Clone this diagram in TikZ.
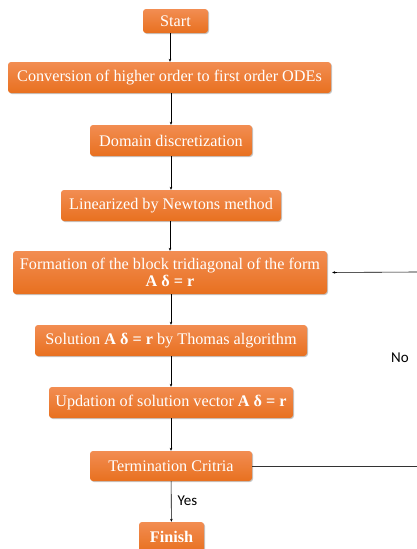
\documentclass[tikz,border=0pt]{standalone}
\usepackage{fontspec}
\setmainfont{Liberation Serif}
\newfontfamily\lblfont{Carlito}
\usetikzlibrary{arrows.meta,shadows}
\definecolor{otop}{HTML}{F28D52}
\definecolor{obot}{HTML}{E8701F}
\tikzset{
  box/.style={rounded corners=3pt, top color=otop, bottom color=obot, draw=none,
    drop shadow={shadow xshift=1pt, shadow yshift=-1pt, fill=black!45, opacity=0.5},
    text=white, font=\fontsize{16.2}{17.5}\selectfont, inner sep=0pt, align=center},
  conn/.style={draw=black, line width=0.6pt, -{Stealth[length=3pt,width=2.6pt]}},
  plain/.style={draw=black!80, line width=0.6pt},
  lbl/.style={font=\lblfont\fontsize{15}{16}\selectfont, text=black, inner sep=0pt}
}
\begin{document}
\begin{tikzpicture}[x=1pt,y=-1pt]
\useasboundingbox (0,0) rectangle (417,549);
\node[box, minimum width=65pt, minimum height=24pt] (start) at (175.5,21) {Start};
\node[box, minimum width=323pt, minimum height=31pt] (conv) at (169.5,77.5) {Conversion of higher order to first order ODEs};
\node[box, minimum width=162pt, minimum height=31pt] (dom) at (171,140.5) {Domain discretization};
\node[box, minimum width=220pt, minimum height=31pt] (lin) at (171,205.5) {Linearized by Newtons method};
\node[box, minimum width=314pt, minimum height=43pt] (form) at (170,272.5) {Formation of the block tridiagonal of the form\\ \textbf{A δ = r}};
\node[box, minimum width=272pt, minimum height=31pt] (sol) at (171,340.5) {Solution \textbf{A δ = r} by Thomas algorithm};
\node[box, minimum width=244pt, minimum height=31pt] (upd) at (171,402.5) {Updation of solution vector \textbf{A δ = r}};
\node[box, minimum width=162pt, minimum height=30pt] (term) at (171,466) {Termination Critria};
\node[box, minimum width=65pt, minimum height=30pt, font=\fontsize{16.2}{17.5}\selectfont\bfseries] (fin) at (171.5,537) {Finish};
\coordinate (r1) at (417,466);
\coordinate (r2) at (417,272);
\draw[conn] (start.south -| 170,0) -- (conv.north -| 170,0);
\draw[conn] (conv.south -| 171,0) -- (dom.north -| 171,0);
\draw[conn] (dom) -- (lin);
\draw[conn] (lin.south -| 170,0) -- (form.north -| 170,0);
\draw[conn] (form.south -| 171,0) -- (sol.north -| 171,0);
\draw[conn] (sol) -- (upd);
\draw[conn] (upd) -- (term);
\draw[conn] (term) -- node[lbl, anchor=west, xshift=6pt, pos=0.47] (yes) {Yes} (fin);
\draw[plain] (term.east) -- (r1);
\draw[conn, shorten >=5pt] (r2) -- (form.east);
\node[lbl] (no) at (400,358) {No};
\end{tikzpicture}
\end{document}
